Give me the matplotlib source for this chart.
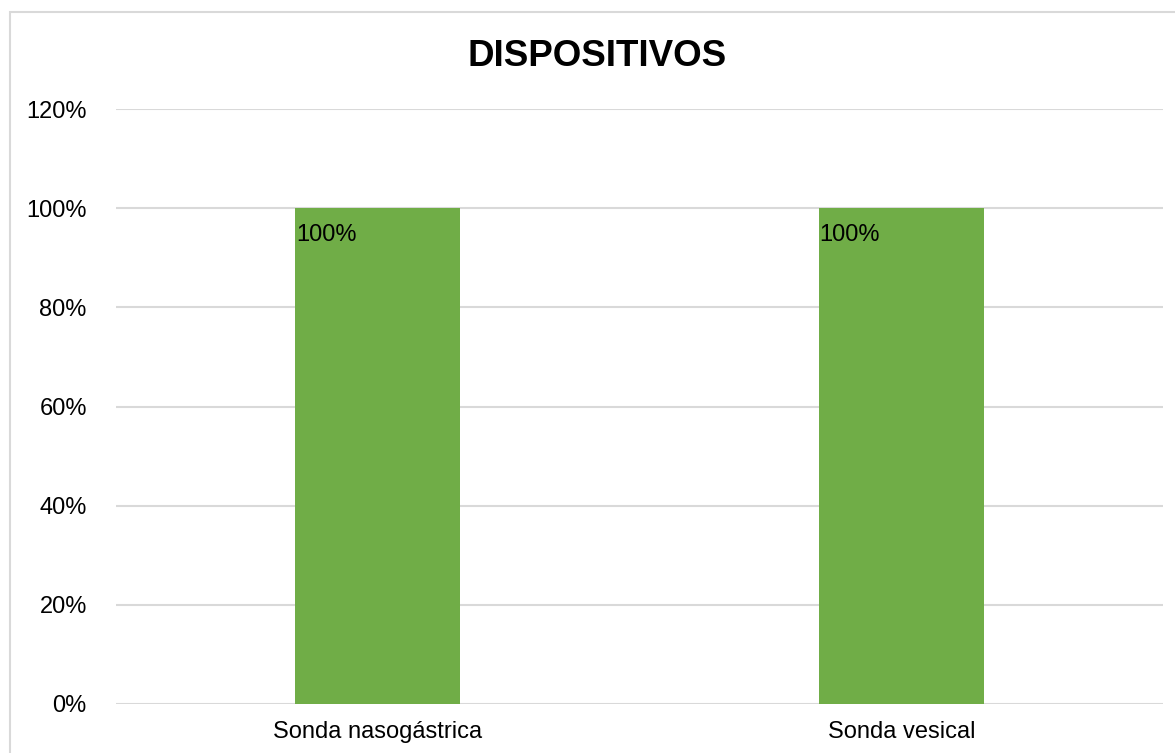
import matplotlib.pyplot as plt
from matplotlib.patches import Rectangle
from matplotlib.ticker import FuncFormatter

categorias = ['Sonda nasogástrica', 'Sonda vesical']
valores = [1.00, 1.00]
etiquetas = ['100%', '100%']

plt.rcParams['font.family'] = ['Liberation Sans', 'DejaVu Sans']

fig = plt.figure(figsize=(11.75, 7.53), dpi=100)
ax = fig.add_axes([116/1175, 49/753, 1047/1175, 595/753])

x = range(len(categorias))
bars = ax.bar(x, valores, width=0.315, color='#70AD47', zorder=3)

for b, lab in zip(bars, etiquetas):
    ax.annotate(lab, (b.get_x(), b.get_height()), xytext=(0.5, -19.5),
                textcoords='offset points', ha='left', va='center',
                fontsize=17, color='#000000', zorder=4)

ax.set_xlim(-0.5, len(categorias) - 0.5)
ax.set_ylim(0, 1.2)
ax.set_yticks([0, 0.2, 0.4, 0.6, 0.8, 1.0, 1.2])
ax.yaxis.set_major_formatter(FuncFormatter(lambda v, p: f'{v*100:.0f}%'))
ax.set_xticks(list(x))
ax.set_xticklabels(categorias)
ax.tick_params(axis='y', length=0, pad=21, labelsize=17, colors='#000000')
ax.tick_params(axis='x', length=0, pad=12, labelsize=17, colors='#000000')
ax.grid(axis='y', color='#D9D9D9', linewidth=1.5, zorder=0)
for s in ax.spines.values():
    s.set_visible(False)

fig.text(597.5/1175, 1 - 56/753, 'DISPOSITIVOS', ha='center', va='center',
         fontsize=26.5, fontweight='bold', color='#000000')

fig.patches.append(Rectangle((9.5/1175, -0.1), 1.2, (753 - 12.5)/753 + 0.1,
                             transform=fig.transFigure, fill=False,
                             edgecolor='#D9D9D9', linewidth=1.5))

fig.savefig('out.png', dpi=100)
